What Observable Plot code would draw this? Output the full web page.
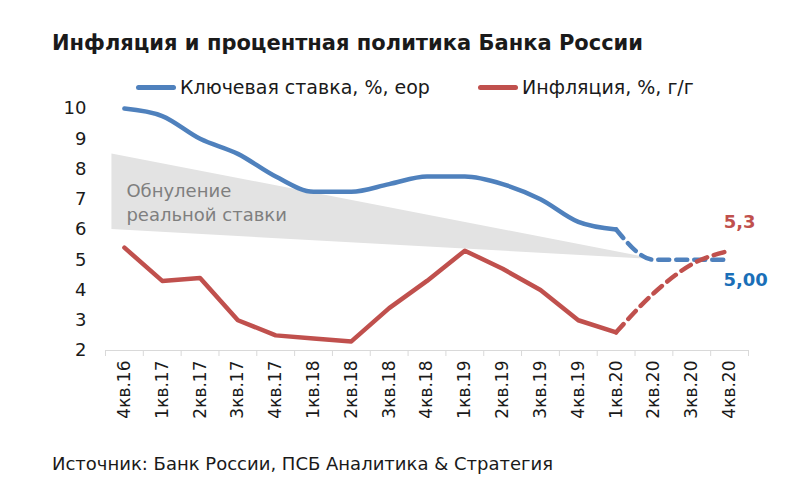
<!DOCTYPE html>
<html><head><meta charset="utf-8">
<script src="https://cdn.jsdelivr.net/npm/d3@7"></script>
<script src="https://cdn.jsdelivr.net/npm/@observablehq/plot@0.6"></script>
<style>
body{margin:0;background:#fff;width:800px;height:499px;position:relative;overflow:hidden;font-family:"DejaVu Sans",sans-serif;color:#1a1a1a}
#title{position:absolute;left:52px;top:31px;font-size:21px;font-weight:bold;white-space:nowrap}
.leg{position:absolute;top:76px;font-size:19px;display:flex;align-items:center;white-space:nowrap;height:22px}
.sw{display:inline-block;width:40px;height:5px;border-radius:2.5px;margin-right:4px}
#chart{position:absolute;left:0;top:95px}
#source{position:absolute;left:52px;top:453px;font-size:18px;white-space:nowrap}
</style></head><body>
<div id="title"></div>
<div class="leg" id="leg1" style="left:136px"></div>
<div class="leg" id="leg2" style="left:478px"></div>
<div id="chart"></div>
<div id="source"></div>
<script>
const titleText = "Инфляция и процентная политика Банка России";
const sourceText = "Источник: Банк России, ПСБ Аналитика & Стратегия";
const seriesNames = ["Ключевая ставка, %, eop", "Инфляция, %, г/г"];
const seriesColors = ["#4f81bd", "#c0504d"];
const quarters = ["4кв.16","1кв.17","2кв.17","3кв.17","4кв.17","1кв.18","2кв.18","3кв.18","4кв.18","1кв.19","2кв.19","3кв.19","4кв.19","1кв.20","2кв.20","3кв.20","4кв.20"];
const keyRate = [10, 9.75, 9, 8.5, 7.75, 7.25, 7.25, 7.5, 7.75, 7.75, 7.5, 7, 6.25, 6, 5, 5, 5];
const inflation = [5.4, 4.3, 4.4, 3.0, 2.5, 2.4, 2.3, 3.4, 4.3, 5.3, 4.7, 4.0, 3.0, 2.6, 3.9, 4.85, 5.3];
const forecastFrom = 13; // index of 1кв.20, last actual value
const wedgeX = [-0.33, 14.1];
const wedgeLow = [6.0, 5.0];
const wedgeHigh = [8.5, 5.0];
const wedgeLabel = ["Обнуление", "реальной ставки"];
const yTicks = [2,3,4,5,6,7,8,9,10];

document.getElementById("title").textContent = titleText;
document.getElementById("source").textContent = sourceText;
["leg1","leg2"].forEach((id,k)=>{
  const el = document.getElementById(id);
  el.innerHTML = `<span class="sw" style="background:${seriesColors[k]}"></span><span></span>`;
  el.lastChild.textContent = seriesNames[k];
});

const rows = quarters.map((q,i)=>({i, q, key:keyRate[i], inf:inflation[i]}));
const fact = rows.filter(d=>d.i<=forecastFrom);
const fc = rows.filter(d=>d.i>=forecastFrom);
const last = rows[rows.length-1];
const wedge = wedgeX.map((x,i)=>({x, y1:wedgeLow[i], y2:wedgeHigh[i]}));
const bounds = d3.range(-0.5, quarters.length, 1);
const fmt = (v,n)=>v.toFixed(n).replace(".", ",");

const chart = Plot.plot({
  width: 800, height: 345,
  marginLeft: 105, marginRight: 52, marginTop: 13, marginBottom: 90,
  x: {type:"linear", domain:[-0.5, quarters.length-0.5]},
  y: {domain:[2,10]},
  style: {fontFamily:"DejaVu Sans", fontSize:"17px", color:"#1a1a1a", background:"transparent"},
  marks: [
    Plot.areaY(wedge, {x:"x", y1:"y1", y2:"y2", fill:"#e3e3e3"}),
    Plot.text([wedgeLabel.join("\n")], {x:0, y:(7.32+6.53)/2, text:d=>d, textAnchor:"start", dx:2, fontSize:18, lineHeight:1.33, fill:"#7f7f7f"}),
    Plot.ruleY([2], {stroke:"#d9d9d9", strokeWidth:1.2}),
    Plot.axisX({ticks:bounds, tickFormat:()=>"", tickSize:6, stroke:"#d9d9d9"}),
    Plot.axisX({ticks:d3.range(quarters.length), tickFormat:i=>quarters[i], tickSize:0, tickRotate:-90, tickPadding:10, fontSize:17}),
    Plot.axisY({ticks:yTicks, tickSize:0, tickPadding:19, fontSize:18}),
    Plot.line(fact, {x:"i", y:"key", stroke:seriesColors[0], strokeWidth:4.5, curve:"monotone-x"}),
    Plot.line(fc, {x:"i", y:"key", stroke:seriesColors[0], strokeWidth:4.5, strokeDasharray:"11,7", curve:"monotone-x"}),
    Plot.line(fact, {x:"i", y:"inf", stroke:seriesColors[1], strokeWidth:4.5}),
    Plot.line(fc, {x:"i", y:"inf", stroke:seriesColors[1], strokeWidth:4.5, strokeDasharray:"11,7", curve:"monotone-x"}),
    Plot.text([last], {x:"i", y:"inf", text:d=>fmt(d.inf,1), dx:10, dy:-28, fill:"#c0504d", fontWeight:"bold", fontSize:18}),
    Plot.text([last], {x:"i", y:"key", text:d=>fmt(d.key,2), dx:16, dy:20, fill:"#1a6fb8", fontWeight:"bold", fontSize:18})
  ]
});
document.getElementById("chart").appendChild(chart);
</script>
</body></html>
